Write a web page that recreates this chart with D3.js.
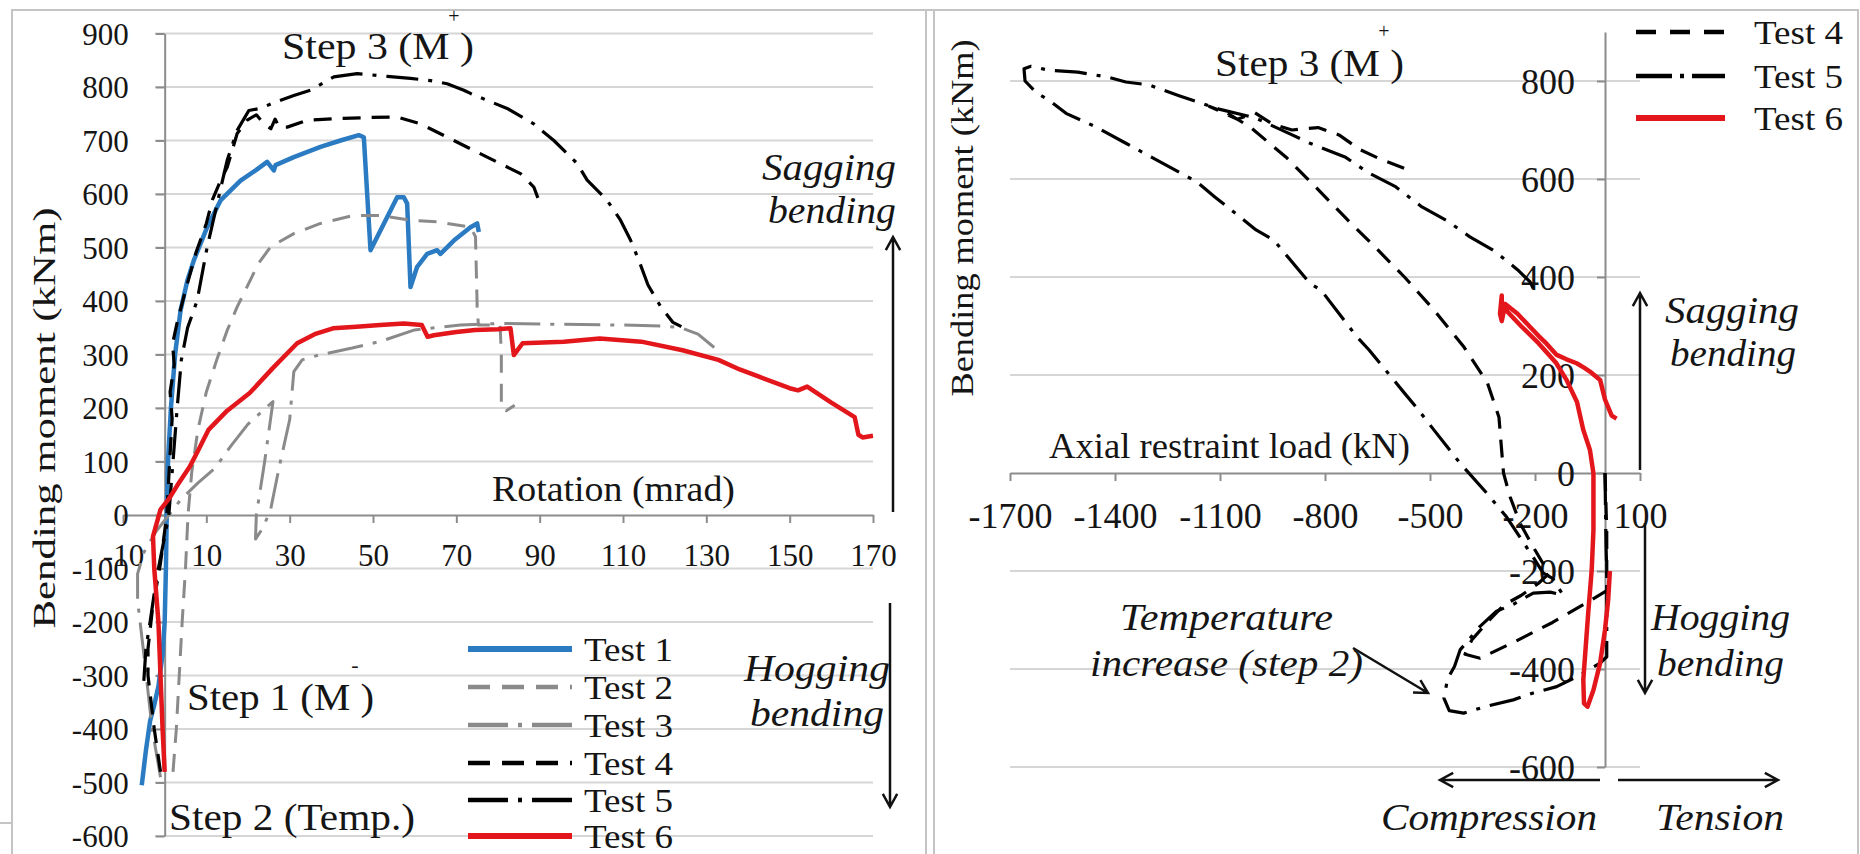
<!DOCTYPE html>
<html>
<head>
<meta charset="utf-8">
<script src="https://cdnjs.cloudflare.com/ajax/libs/d3/7.8.5/d3.min.js"></script>
<style>
  body { margin: 0; background: #fff; }
  svg { display: block; }
</style>
</head>
<body>
<svg id="chart" width="1860" height="854"></svg>
<script>
// tick values
var rotTicks = [-10, 10, 30, 50, 70, 90, 110, 130, 150, 170];
var momentTicksL = [-600, -500, -400, -300, -200, -100, 0, 100, 200, 300, 400, 500, 600, 700, 800, 900];
var axialTicks = [-1700, -1400, -1100, -800, -500, -200, 100];
var momentTicksR = [-600, -400, -200, 0, 200, 400, 600, 800];

// left panel: [rotation (mrad), bending moment (kNm)]
var test1Rot = [[-5.5,-505],[-4.5,-440],[-3.5,-385],[-2.5,-355],[-1.5,-320],[-0.5,-260],[0,-200],[0.3,-100],[0.5,0],[0.8,100],[1.5,200],[2.5,300],[3.8,382],[5.5,440],[7,476],[10.2,538],[13.4,588],[18.2,625],[22,645],[24.6,660],[26.2,644],[26.6,654],[31,669],[37.4,688],[42.2,700],[46.6,710],[47.8,706],[49.4,495],[55.8,594],[57.4,594],[58.2,582],[59,426],[60.6,464],[63,488],[65.4,495],[66.2,488],[69.4,513],[73.4,538],[75,545],[75.4,529]];
var test2Rot = [[2,-480],[2.8,-400],[3.5,-300],[4.2,-200],[5,-100],[5.6,0],[6.5,80],[8,160],[10,230],[12.5,290],[15,345],[17.4,389],[20,430],[22.5,470],[25.4,501],[31,526],[37.4,545],[45.4,560],[51.8,560],[59,551],[65.4,548],[73.4,538],[74.6,520],[75,389],[75.3,355],[80.5,355],[80.8,300],[80.8,200],[82,195],[84,205]];
var test3Rot = [[-1,-490],[-3,-400],[-5,-260],[-6.5,-160],[-6.5,-110],[-5,-70],[-2,-30],[1,0],[4,30],[8,60],[12,87],[16,130],[20,170],[26,212],[24,100],[22,0],[21.8,-45],[23.5,-25],[25.4,9],[27.5,90],[30,178],[31,268],[33,290],[37,299],[45,312],[52,325],[60,346],[71,355],[80,358],[90,357],[100,356],[110,355],[120,353],[124,350],[128,338],[133,306]];
var test4Rot = [[-1,-480],[-2.5,-400],[-4,-300],[-4,-250],[-3,-180],[-1,-90],[0.5,0],[1.2,100],[1.8,180],[1.3,230],[2.3,280],[1.9,320],[3,360],[5,420],[7.5,490],[10,545],[11.5,590],[13.4,625],[15,650],[17.4,713],[19.8,738],[22,748],[24,730],[25.5,722],[26.5,740],[27.5,725],[29.4,725],[34.2,738],[41.4,741],[49.4,743],[55.8,744],[61.4,731],[69.4,700],[77.4,669],[85.4,638],[88.6,613],[89.8,588]];
var test5Rot = [[-5,-310],[-4.5,-250],[-3.5,-200],[-2,-120],[0,-40],[1,0],[2,100],[3,200],[4,290],[5.5,350],[7.8,401],[10.2,501],[12.6,582],[15,663],[17.4,719],[20.2,756],[23,760],[26,770],[31,784],[35,794],[40.6,819],[46.2,825],[53.4,820],[59,816],[63.8,812],[67.8,806],[71.8,794],[73.4,788],[77.4,775],[82.2,760],[88.6,731],[93.4,700],[99,657],[101.4,626],[106.2,588],[109.4,551],[111.8,514],[113.8,476],[116,430],[119,390],[122,360],[124,352]];
var test6Rot = [[0,-480],[-0.5,-400],[-1,-300],[-1.5,-200],[-2.5,-100],[-2.8,-40],[-1,10],[1,30],[3,55],[6,90],[8,120],[10.5,159],[15,195],[20.4,228],[26,275],[31.8,321],[36,338],[40.4,349],[46,352],[51.7,355],[57.4,358],[61.7,355],[63.1,333],[64.6,336],[70,342],[74.5,346],[80,347],[83,349],[83.8,299],[85.9,321],[95.8,324],[104.4,330],[114.4,324],[124.3,308],[132.9,290],[138,272],[142.8,258],[150,237],[152,233],[154.2,240],[160,210],[165.6,183],[166.5,150],[167.5,145],[170,148]];

// right panel: [axial restraint load (kN), bending moment (kNm)]
var test4Axial = [[0,0],[5,-120],[5,-240],[-60,-268],[-150,-305],[-260,-345],[-357,-378],[-400,-370],[-380,-340],[-330,-300],[-290,-270],[-240,-250],[-190,-225],[-160,-205],[-206,-150],[-243,-102],[-271,-49],[-290,0],[-303,114],[-336,184],[-403,257],[-489,333],[-573,400],[-657,461],[-743,522],[-827,584],[-912,645],[-1014,706],[-1080,735],[-1130,748],[-1050,722],[-1000,735],[-950,712],[-894,700],[-820,705],[-760,690],[-700,660],[-640,640],[-574,622]];
var test5Axial = [[0,0],[3,-150],[5,-200],[5,-300],[5,-375],[-14,-388],[-76,-414],[-138,-436],[-205,-449],[-262,-463],[-338,-476],[-404,-490],[-445,-485],[-460,-460],[-450,-420],[-430,-395],[-414,-361],[-357,-313],[-310,-282],[-262,-268],[-205,-245],[-157,-243],[-120,-249],[-150,-215],[-177,-204],[-206,-171],[-281,-90],[-338,-41],[-414,20],[-489,88],[-540,135],[-573,163],[-674,251],[-709,278],[-811,373],[-843,387],[-946,475],[-997,496],[-1114,563],[-1166,594],[-1369,673],[-1454,706],[-1540,734],[-1589,761],[-1623,775],[-1657,800],[-1660,825],[-1640,830],[-1589,822],[-1506,818],[-1420,808],[-1369,798],[-1303,792],[-1217,770],[-1100,742],[-1000,725],[-900,692],[-843,673],[-743,645],[-674,612],[-600,585],[-523,543],[-454,516],[-386,482],[-320,455],[-250,415],[-214,390],[-194,360]];
var test6Axial = [[14,-200],[9,-259],[0,-320],[-14,-388],[-33,-443],[-50,-477],[-60,-470],[-62,-422],[-55,-354],[-48,-286],[-38,-198],[-33,-116],[-33,-1],[-43,47],[-62,88],[-80,145],[-110,190],[-140,225],[-190,265],[-240,300],[-280,330],[-295,350],[-295,362],[-300,325],[-295,310],[-285,345],[-250,325],[-214,298],[-190,280],[-167,264],[-138,241],[-110,232],[-81,224],[-60,215],[-43,207],[-14,190],[0,150],[19,117],[33,111]];

var leftNames = ["Test 1", "Test 2", "Test 3", "Test 4", "Test 5", "Test 6"];
var rightNames = ["Test 4", "Test 5", "Test 6"];

var styles = {
  "Test 1": { color: "#2b7bc3", width: 4.5, dash: null },
  "Test 2": { color: "#8a8a8a", width: 3, dash: "18,11" },
  "Test 3": { color: "#8a8a8a", width: 3, dash: "36,10,4,10" },
  "Test 4": { color: "#000", width: 3.2, dash: "18,11" },
  "Test 5": { color: "#000", width: 3.2, dash: "32,10,4,10" },
  "Test 6": { color: "#e3161c", width: 4.5, dash: null }
};

var FONT = "'Liberation Serif', 'Times New Roman', serif";

var svg = d3.select("#chart");
svg.append("rect").attr("width", 1860).attr("height", 854).attr("fill", "#fff");

var xL = d3.scaleLinear().domain([-10, 170]).range([123, 873]);
var yL = d3.scaleLinear().domain([-600, 900]).range([836, 33.5]);
var xR = d3.scaleLinear().domain([-1700, 100]).range([1010, 1640]);
var yR = d3.scaleLinear().domain([-600, 900]).range([767, 32]);

// panel frames
var frame = svg.append("g").attr("stroke", "#c4c4c4").attr("stroke-width", 2).attr("fill", "none");
frame.append("path").attr("d", "M12,854V10H1858V854");
frame.append("path").attr("d", "M926,10V854M934,10V854");
frame.append("path").attr("d", "M0,823H12");

// gridlines
svg.append("g").selectAll("line")
  .data(momentTicksL.filter(d => d !== 0))
  .join("line")
  .attr("x1", 155).attr("x2", xL(170))
  .attr("y1", d => yL(d)).attr("y2", d => yL(d))
  .attr("stroke", "#d6d6d6").attr("stroke-width", 2);

svg.append("g").selectAll("line")
  .data(momentTicksR.filter(d => d !== 0))
  .join("line")
  .attr("x1", xR(-1700)).attr("x2", xR(100))
  .attr("y1", d => yR(d)).attr("y2", d => yR(d))
  .attr("stroke", "#d6d6d6").attr("stroke-width", 2);

function styleAxis(g, size) {
  g.attr("font-family", null).attr("font-size", null);
  g.select(".domain").attr("stroke", "#8c8c8c").attr("stroke-width", 2);
  g.selectAll(".tick line").attr("stroke", "#8c8c8c").attr("stroke-width", 2);
  g.selectAll(".tick text")
    .style("font-family", FONT)
    .style("font-size", size + "px")
    .attr("fill", "#151515");
}
var plain = d => String(d);

// left axes
var gxL = svg.append("g").attr("transform", "translate(0," + yL(0) + ")")
  .call(d3.axisBottom(xL).tickValues(rotTicks).tickFormat(plain).tickSize(8).tickSizeOuter(0));
styleAxis(gxL, 31);
gxL.selectAll(".tick text").attr("y", 40).attr("dy", "0.35em");

var gyL = svg.append("g").attr("transform", "translate(" + xL(0) + ",0)")
  .call(d3.axisLeft(yL).tickValues(momentTicksL).tickFormat(plain).tickSize(9).tickSizeOuter(0));
styleAxis(gyL, 31);
gyL.selectAll(".tick text").attr("x", -36).attr("dy", "0.35em");

// right axes
var gxR = svg.append("g").attr("transform", "translate(0," + yR(0) + ")")
  .call(d3.axisBottom(xR).tickValues(axialTicks).tickFormat(plain).tickSize(8).tickSizeOuter(0));
styleAxis(gxR, 36);
gxR.selectAll(".tick text").attr("y", 42).attr("dy", "0.35em");

var gyR = svg.append("g").attr("transform", "translate(" + xR(0) + ",0)")
  .call(d3.axisLeft(yR).tickValues(momentTicksR).tickFormat(plain).tickSize(8).tickSizeOuter(0));
styleAxis(gyR, 36);
gyR.selectAll(".tick text").attr("x", -30).attr("dy", "0.35em");

// data lines
var lineL = d3.line().x(d => xL(d[0])).y(d => yL(d[1]));
var lineR = d3.line().x(d => xR(d[0])).y(d => yR(d[1]));

var leftData = [test1Rot, test2Rot, test3Rot, test4Rot, test5Rot, test6Rot];
var rightData = [test4Axial, test5Axial, test6Axial];

function drawSeries(g, names, data, line) {
  g.selectAll("path")
    .data(names)
    .join("path")
    .attr("d", (n, i) => line(data[i]))
    .attr("fill", "none")
    .attr("stroke", n => styles[n].color)
    .attr("stroke-width", n => styles[n].width)
    .attr("stroke-dasharray", n => styles[n].dash)
    .attr("stroke-linejoin", "round");
}
drawSeries(svg.append("g"), leftNames, leftData, lineL);
drawSeries(svg.append("g"), rightNames, rightData, lineR);

// text helper
function label(x, y, s, o) {
  o = o || {};
  var t = svg.append("text").attr("x", x).attr("y", y).attr("dy", "0.35em")
    .style("font-family", FONT)
    .style("font-size", (o.size || 34) + "px")
    .attr("fill", "#151515")
    .text(s);
  if (o.anchor) t.attr("text-anchor", o.anchor);
  if (o.italic) t.style("font-style", "italic");
  if (o.len) t.attr("textLength", o.len).attr("lengthAdjust", "spacingAndGlyphs");
  if (o.rotate) t.attr("transform", "rotate(-90," + x + "," + y + ")");
  return t;
}

function arrow(x1, y1, x2, y2) {
  var a = Math.atan2(y2 - y1, x2 - x1), h = 15, w = 0.5;
  var p = "M" + x1 + "," + y1 + "L" + x2 + "," + y2 +
    "M" + (x2 - h * Math.cos(a - w)) + "," + (y2 - h * Math.sin(a - w)) +
    "L" + x2 + "," + y2 +
    "L" + (x2 - h * Math.cos(a + w)) + "," + (y2 - h * Math.sin(a + w));
  svg.append("path").attr("d", p).attr("fill", "none")
    .attr("stroke", "#111").attr("stroke-width", 2.5);
}

// left panel text
label(44, 418, "Bending moment (kNm)", { size: 32, anchor: "middle", len: 421, rotate: true });
label(282, 46, "Step 3 (M )", { size: 38, len: 192 });
label(454, 16, "+", { size: 20, anchor: "middle" });
label(492, 488, "Rotation  (mrad)", { size: 36, len: 243 });
label(762, 167, "Sagging", { size: 38, italic: true, len: 134 });
label(768, 210, "bending", { size: 38, italic: true, len: 128 });
arrow(893, 512, 893, 237);
label(744, 668, "Hogging", { size: 38, italic: true, len: 146 });
label(750, 713, "bending", { size: 38, italic: true, len: 134 });
arrow(890, 603, 890, 807);
label(187, 697, "Step 1 (M )", { size: 38, len: 187 });
label(355, 664, "-", { size: 22, anchor: "middle" });
label(169, 817, "Step 2 (Temp.)", { size: 38, len: 246 });

// right panel text
label(962, 218, "Bending moment (kNm)", { size: 32, anchor: "middle", len: 357, rotate: true });
label(1215, 63, "Step 3 (M )", { size: 38, len: 189 });
label(1384, 31, "+", { size: 20, anchor: "middle" });
label(1049, 445, "Axial restraint load (kN)", { size: 36, len: 361 });
label(1665, 310, "Sagging", { size: 38, italic: true, len: 134 });
label(1670, 353, "bending", { size: 38, italic: true, len: 126 });
arrow(1640, 470, 1640, 293);
label(1651, 617, "Hogging", { size: 38, italic: true, len: 139 });
label(1657, 663, "bending", { size: 38, italic: true, len: 127 });
arrow(1645, 523, 1645, 693);
label(1120, 617, "Temperature", { size: 38, italic: true, len: 213 });
label(1090, 663, "increase (step 2)", { size: 38, italic: true, len: 273 });
arrow(1353, 648, 1428, 693);
arrow(1600, 780, 1440, 780);
arrow(1618, 780, 1778, 780);
label(1381, 817, "Compression", { size: 38, italic: true, len: 216 });
label(1656, 817, "Tension", { size: 38, italic: true, len: 128 });

// legends
var legendLeftY = [649, 687, 725, 763, 800, 836];
leftNames.forEach(function (n, i) {
  var s = styles[n];
  svg.append("line").attr("x1", 468).attr("x2", 572)
    .attr("y1", legendLeftY[i]).attr("y2", legendLeftY[i])
    .attr("stroke", s.color).attr("stroke-width", s.width + 1.5)
    .attr("stroke-dasharray", s.dash ? (s.dash.split(",").length > 2 ? "40,10,4,10" : "22,12") : null);
  label(584, legendLeftY[i], n, { size: 33, len: 89 });
});

var legendRightY = [32, 76, 118];
rightNames.forEach(function (n, i) {
  var s = styles[n];
  svg.append("line").attr("x1", 1636).attr("x2", 1725)
    .attr("y1", legendRightY[i]).attr("y2", legendRightY[i])
    .attr("stroke", s.color).attr("stroke-width", s.width + 1.5)
    .attr("stroke-dasharray", s.dash ? (s.dash.split(",").length > 2 ? "36,8,4,8" : "20,14") : null);
  label(1754, legendRightY[i], n, { size: 34, len: 89 });
});
</script>
</body>
</html>
